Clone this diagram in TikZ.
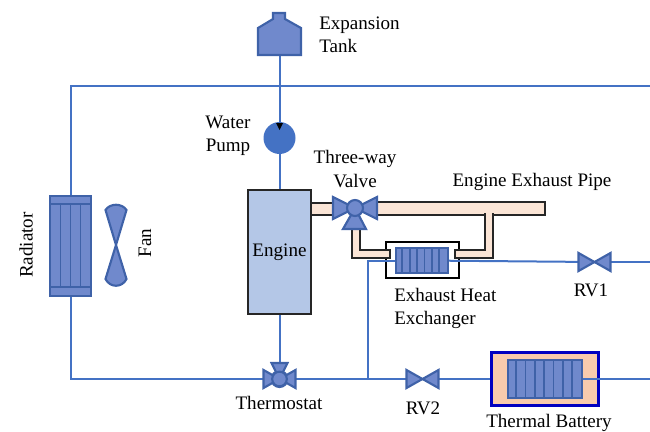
\documentclass[tikz,border=0pt]{standalone}
\usepackage{fontspec}
\setmainfont{Liberation Serif}
\usetikzlibrary{calc, shapes, arrows, positioning}
\definecolor{pipeblue}{HTML}{4472C4}
\definecolor{partfill}{HTML}{7089CC}
\definecolor{partedge}{HTML}{3F62A8}
\definecolor{exhaust}{HTML}{FBE5D6}
\definecolor{enginefill}{HTML}{B4C7E7}
\definecolor{batteryfill}{HTML}{F8CBAD}
\definecolor{batteryedge}{HTML}{0000C0}
\newcommand{\drawtie}[1]{\draw[part,shift={(#1)}] (-16,-9) -- (16,9) -- (16,-9) -- (-16,9) -- cycle;}
\tikzstyle{line} = [draw=pipeblue, line width=1.5pt]
\tikzstyle{part} = [draw=partedge, fill=partfill, line width=1.6pt, line join=miter]
\tikzstyle{rib} = [draw=partedge, line width=1.3pt]
\tikzstyle{gas} = [draw=black!85, fill=exhaust, line width=1.5pt]
\tikzstyle{label} = [inner sep=0pt, align=center, font=\fontsize{14.3}{17.4}\selectfont]
\tikzstyle{core} = [rectangle, part, inner sep=0pt]
\tikzstyle{ball} = [circle, part, inner sep=0pt, minimum size=12pt]

\begin{document}
\begin{tikzpicture}[x=0.75pt, y=-0.75pt]
\useasboundingbox (0,0) rectangle (650,432);
\coordinate (looptop) at (650,86);
\coordinate (loopbottom) at (650,379);
\coordinate (branch) at (368,379);
\coordinate (rvoneout) at (650,262);
\coordinate (tankfoot) at (279.5,55);
\coordinate (threeway) at (355,208);
\node [circle, fill=pipeblue, inner sep=0pt, minimum size=24pt] (pump) at (279.5,138) {};
\node [rectangle, draw=black!85, fill=enginefill, line width=1.2pt, minimum width=47pt, minimum height=93pt, inner sep=0pt, label] (engine) at (279.5,252) {\raisebox{-1.5pt}{Engine}};
\node [core, minimum width=30.5pt, minimum height=75pt] (radiator) at (70.5,246) {};
\node [ball] (thermostat) at (279.5,379) {};
\node [inner sep=0pt, minimum size=1pt] (rvone) at (594.5,262) {};
\node [inner sep=0pt, minimum size=1pt] (rvtwo) at (422.5,379) {};
\node [rectangle, draw=black, fill=white, line width=1.7pt, minimum width=54.5pt, minimum height=27pt, inner sep=0pt] (hxbox) at (422.5,260) {};
\node [core, minimum width=39pt, minimum height=18.5pt] (hxcore) at (422,260.5) {};
\node [rectangle, draw=batteryedge, fill=batteryfill, line width=2pt, minimum width=80pt, minimum height=40pt, inner sep=0pt] (battery) at (545,379) {};
\node [core, minimum width=55.5pt, minimum height=28.5pt] (batcore) at (545,379) {};
\path[line] (tankfoot) -- (pump);
\path[line] (pump) -- (engine);
\path[line] (engine) -- (thermostat);
\path[line] (radiator.north) |- (looptop);
\path[line] (radiator.south) |- (thermostat);
\path[line] (thermostat) -- (rvtwo);
\path[line] (rvtwo) -- (battery);
\path[line] (batcore) -- (loopbottom);
\path[line] (branch) |- (hxcore);
\path[line] (hxcore) -- (rvone);
\path[line] (rvone) -- (rvoneout);
\fill[black] (276,123) -- (283,123) -- (279.5,130) -- cycle;
% exhaust pipes
\path[gas] (311,203) rectangle (340,215);
\path[gas] (370,202) rectangle (545,215);
\path[gas] (352,225) -- (352,258) -- (390,258) -- (390,250) -- (360,250) -- (360,225) -- cycle;
\path[gas] (493,213) -- (493,258) -- (455,258) -- (455,250) -- (485,250) -- (485,213);
\fill[exhaust] (486.2,212) rectangle (491.8,217);
% parts
\draw[part] (273,13) -- (285,13) -- (285,19) -- (301,28) -- (301,55) -- (258,55) -- (258,28) -- (273,19) -- cycle;
\draw[rib] (50,204) -- (91,204) (50,287) -- (91,287);
\foreach \x in {60.5,70.5,80.5} \draw[rib] (\x,204) -- (\x,287);
\foreach \x in {1,...,6} \draw[rib] ($(hxcore.west)+(7.4*\x,-12)$) -- +(0,24.5);
\foreach \x in {1,...,7} \draw[rib] ($(batcore.west)+(9.3*\x,-19)$) -- +(0,38);
\draw[part] (116,245) -- (105.5,210) .. controls (110,203) and (122,203) .. (126.5,210) -- (116,245) -- (126.5,279) .. controls (122,288) and (110,288) .. (105.5,279) -- cycle;
\drawtie{rvone}
\drawtie{rvtwo}
% thermostat
\draw[part, shift={(thermostat)}] (-16,-9) -- (0,0) -- (-16,9) -- cycle (16,-9) -- (0,0) -- (16,9) -- cycle (-8,-16) -- (8,-16) -- (0,0) -- cycle;
\node [ball, minimum size=11pt] (thermoball) at (thermostat) {};
% three-way valve
\draw[part, shift={(threeway)}] (-22,-11) -- (0,0) -- (-22,11) -- cycle (22,-11) -- (0,0) -- (22,11) -- cycle (-12,21) -- (11,21) -- (0,0) -- cycle;
\node [ball] (threeball) at (threeway) {};
% text
\node [label, align=left, anchor=north west] (tanktext) at (319,16.5) {Expansion\\Tank};
\node [label] (pumptext) at (228,136) {Water\\Pump};
\node [label] (valvetext) at (355,169) {Three-way\\Valve};
\node [label] (pipetext) at (532,182) {Engine Exhaust Pipe};
\node [label, align=left, anchor=north west] (hxtext) at (394,288) {Exhaust Heat\\Exchanger};
\node [label] (rvonetext) at (591,290) {RV1};
\node [label] (rvtwotext) at (423,408) {RV2};
\node [label] (thermotext) at (279,403) {Thermostat};
\node [label] (batterytext) at (549,423) {Thermal Battery};
\node [label, rotate=90] (radtext) at (26,245) {Radiator};
\node [label, rotate=90] (fantext) at (145,243) {Fan};
\end{tikzpicture}
\end{document}
